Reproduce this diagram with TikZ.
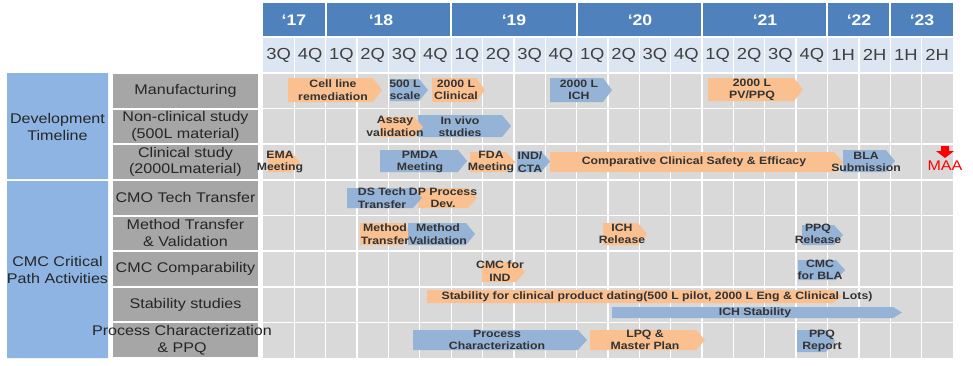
\documentclass[tikz,border=0pt]{standalone}
\usepackage{fontspec}
\setmainfont{Liberation Sans}[FakeStretch=1.15]
\setsansfont{Liberation Sans}[FakeStretch=1.15]
\definecolor{hdrblue}{HTML}{4F81BD}
\definecolor{qtrblue}{HTML}{DCE6F2}
\definecolor{grpblue}{HTML}{8DB4E2}
\definecolor{lblgray}{HTML}{A6A6A6}
\definecolor{gridgray}{HTML}{D9D9D9}
\definecolor{barorange}{HTML}{FAC090}
\definecolor{barblue}{HTML}{95B3D7}
\definecolor{txtgray}{HTML}{333333}
\newcommand{\tlbar}[5]{\fill[#1](#2,#4)--({#3-9},#4)--(#3,{(#4+#5)/2})--({#3-9},#5)--(#2,#5)--cycle;}
\begin{document}
\begin{tikzpicture}[x=0.75pt,y=-0.75pt,
    bartext/.style={font=\bfseries\fontsize{8}{9.3}\selectfont,text=txtgray,align=center,inner sep=0pt},
    rowlbl/.style={font=\fontsize{10.5}{12.5}\selectfont,text=black!85,align=center,inner sep=0pt},
    qtr/.style={font=\fontsize{12}{14}\selectfont,text=black!75,inner sep=0pt},
    yr/.style={font=\bfseries\fontsize{11.5}{14}\selectfont,text=white,inner sep=0pt}]
    \useasboundingbox(0,0)rectangle(973,365);
    \fill[gridgray](263,73)rectangle(953,358);
    \fill[qtrblue](263,37)rectangle(953,73);
    \fill[hdrblue](263,3)rectangle(953,37);
    \foreach \i in {1,...,21} \draw[white,line width=1pt]({263+31.36*\i},37)--({263+31.36*\i},358);
    \foreach \y in {73,108.6,144.2,179.9,215.5,251.1,286.7,322.4} \draw[white,line width=1.2pt](263,\y)--(953,\y);
    \foreach \i in {2,6,10,14,18,20} \draw[white,line width=1.5pt]({263+31.36*\i},3)--({263+31.36*\i},37);
    \draw[white,line width=1.5pt](263,37)--(953,37);
    \foreach \q [count=\i from 0] in {3Q,4Q,1Q,2Q,3Q,4Q,1Q,2Q,3Q,4Q,1Q,2Q,3Q,4Q,1Q,2Q,3Q,4Q,1H,2H,1H,2H}
        \node[qtr] (q\i) at ({263+31.36*(\i+0.5)},55) {\q};
    \node[yr] (y17) at (294,20) {`17};
    \node[yr] (y18) at (381,20) {`18};
    \node[yr] (y19) at (514,20) {`19};
    \node[yr] (y20) at (640,20) {`20};
    \node[yr] (y21) at (765,20) {`21};
    \node[yr] (y22) at (859,20) {`22};
    \node[yr] (y23) at (922,20) {`23};
    \fill[grpblue](7,73)rectangle(108,179)(7,181)rectangle(108,358);
    \node[rowlbl] (devtl) at (57.5,127) {Development\\Timeline};
    \node[rowlbl] (cmcpath) at (57.5,270) {CMC Critical\\Path Activities};
    \foreach \r in {0,...,7} \fill[lblgray](113,{73+35.625*\r+1})rectangle(258,{73+35.625*(\r+1)-1});
    \node[rowlbl] (manuf) at (185.5,91) {Manufacturing};
    \node[rowlbl] (nonclin) at (185.5,126.4) {Non-clinical study\\(500L material)};
    \node[rowlbl] (clin) at (185.5,162) {Clinical study\\(2000Lmaterial)};
    \node[rowlbl] (cmotech) at (185.5,197.7) {CMO Tech Transfer};
    \node[rowlbl] (methtr) at (185.5,233.3) {Method Transfer\\\& Validation};
    \node[rowlbl] (cmccomp) at (185.5,268.9) {CMC Comparability};
    \node[rowlbl] (stab) at (185.5,304.6) {Stability studies};
    \node[rowlbl] (procchar) at (182,340.2) {Process Characterization\\\& PPQ};
    \tlbar{barorange}{288}{382}{78}{102}
    \tlbar{barblue}{390}{428}{79}{101}
    \tlbar{barorange}{432}{485}{78}{102}
    \tlbar{barblue}{550}{612}{78}{102}
    \tlbar{barorange}{708}{803}{78}{101}
    \node[bartext] (cellline) at (333,90) {Cell line\\remediation};
    \node[bartext] (scale500) at (405,90) {500 L\\scale};
    \node[bartext] (clin2000) at (456,90) {2000 L\\Clinical};
    \node[bartext] (ich2000) at (579,90) {2000 L\\ICH};
    \node[bartext] (ppq2000) at (752,90) {2000 L\\PV/PPQ};
    \tlbar{barblue}{418}{511}{115}{137}
    \tlbar{barorange}{380}{423}{117}{137}
    \node[bartext] (assay) at (395,126.5) {Assay\\validation};
    \node[bartext] (invivo) at (460,126.5) {In vivo\\studies};
    \tlbar{barorange}{268}{300}{152}{172}
    \tlbar{barblue}{380}{467}{150}{172}
    \tlbar{barorange}{470}{515}{152}{172}
    \tlbar{barblue}{517}{550}{151}{172}
    \tlbar{barorange}{550}{843}{152}{172}
    \tlbar{barblue}{843}{895}{150}{172}
    \node[bartext] (ema) at (280,162) {EMA\\Meeting};
    \node[bartext] (pmda) at (420,162) {PMDA\\Meeting};
    \node[bartext] (fda) at (491,162) {FDA\\Meeting};
    \node[bartext] (indcta) at (530,162) {IND/\\CTA};
    \node[bartext] (compclin) at (694,162) {Comparative Clinical Safety \& Efficacy};
    \node[bartext] (bla) at (866,162) {BLA\\Submission};
    \fill[red](941,146)rectangle(949,151)(936,151)--(954,151)--(945,158)--cycle;
    \node[font=\sffamily\fontsize{10.5}{12}\selectfont,text=red,inner sep=0pt] (maa) at (945,166) {MAA};
    \tlbar{barorange}{418}{477}{188}{208}
    \tlbar{barblue}{347}{422}{188}{208}
    \node[bartext] (dstech) at (382,198) {DS Tech\\Transfer};
    \node[bartext] (dpproc) at (443,198) {DP Process\\Dev.};
    \tlbar{barorange}{360}{412}{223}{245}
    \tlbar{barblue}{408}{475}{223}{245}
    \tlbar{barorange}{603}{647}{223}{245}
    \tlbar{barblue}{802}{843}{225}{245}
    \node[bartext] (methtrans) at (385,234) {Method\\Transfer};
    \node[bartext] (methval) at (438,234) {Method\\Validation};
    \node[bartext] (ichrel) at (622,234) {ICH\\Release};
    \node[bartext] (ppqrel) at (818,234) {PPQ\\Release};
    \tlbar{barorange}{482}{525}{262}{282}
    \tlbar{barblue}{798}{845}{260}{280}
    \node[bartext] (cmcind) at (500,271) {CMC for\\IND};
    \node[bartext] (cmcbla) at (820,270) {CMC\\for BLA};
    \tlbar{barorange}{427}{842}{290}{303}
    \tlbar{barblue}{612}{902}{307}{318}
    \node[bartext] (stabclin) at (657,296.5) {Stability for clinical product dating(500 L pilot, 2000 L Eng \& Clinical Lots)};
    \node[bartext] (ichstab) at (755,312.5) {ICH Stability};
    \tlbar{barblue}{413}{587}{330}{350}
    \tlbar{barorange}{590}{705}{330}{350}
    \tlbar{barblue}{797}{835}{330}{352}
    \node[bartext] (procch) at (497,340) {Process\\Characterization};
    \node[bartext] (lpq) at (645,340) {LPQ \&\\Master Plan};
    \node[bartext] (ppqrep) at (822,341) {PPQ\\Report};
\end{tikzpicture}
\end{document}
